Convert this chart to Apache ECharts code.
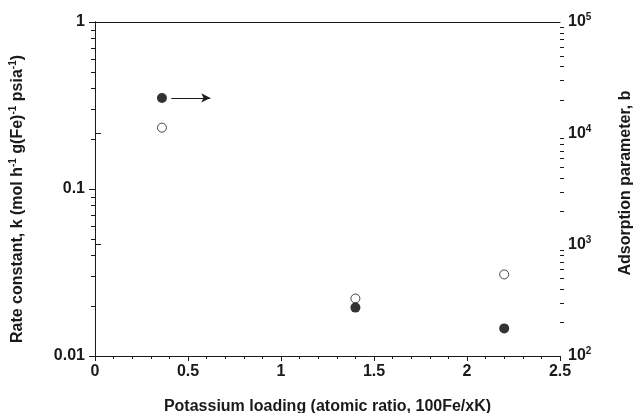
<!DOCTYPE html>
<html>
<head>
<meta charset="utf-8">
<script src="https://cdn.jsdelivr.net/npm/echarts@6/dist/echarts.min.js"></script>
<style>
  html, body { margin: 0; padding: 0; background: #fff; }
  #chart { width: 636px; height: 413px; }
</style>
</head>
<body>
<div id="chart"></div>
<script>
// Potassium loading (100Fe/xK)
const loading = [0.36, 1.4, 2.2];
// Rate constant k, left axis (open circles)
const rateConstant = [0.233, 0.0221, 0.0308];
// Adsorption parameter b, right axis (filled circles)
const adsorption = [20800, 272, 177];
// Arrow pointing from the first b point toward its axis
const arrowFrom = [0.41, 20800];
const arrowTo = [0.62, 20800];

// Minor tick positions for the two logarithmic axes
const leftMinorTicks = [0.02, 0.03, 0.04, 0.05, 0.06, 0.07, 0.08, 0.09,
                        0.2, 0.3, 0.4, 0.5, 0.6, 0.7, 0.8, 0.9];
const rightMinorTicks = [200, 300, 400, 500, 600, 700, 800, 900,
                         2000, 3000, 4000, 5000, 6000, 7000, 8000, 9000,
                         20000, 30000, 40000, 50000, 60000, 70000, 80000, 90000];

const X_MIN = 0, X_MAX = 2.5;
const FONT = 'Liberation Sans, Arial, sans-serif';
const INK = '#1a1a1a';

const chart = echarts.init(document.getElementById('chart'), null, { renderer: 'canvas' });

const labelText = { fontFamily: FONT, fontWeight: 'bold', fontSize: 16, color: INK };
const supText = { fontFamily: FONT, fontWeight: 'bold', fontSize: 10, color: INK, padding: [0, 0, 9, 0] };
const nameText = { fontFamily: FONT, fontWeight: 'bold', fontSize: 16, color: INK };
const nameSup = { fontFamily: FONT, fontWeight: 'bold', fontSize: 10, color: INK, padding: [0, 0, 9, 0] };

// Short outward tick drawn at a value of a log axis, placed by the axis scale
function minorTickSeries(yAxisIndex, xEdge, values, dir, len) {
  return {
    type: 'custom', xAxisIndex: 0, yAxisIndex: yAxisIndex,
    silent: true, clip: false, z: 2,
    data: values.map(v => [xEdge, v]),
    renderItem: function (params, api) {
      const p = api.coord([api.value(0), api.value(1)]);
      const y = Math.round(p[1]) + 0.5;
      const x = Math.round(p[0]);
      return {
        type: 'line',
        shape: { x1: x, y1: y, x2: x + dir * len, y2: y },
        style: { stroke: INK, lineWidth: 1 }
      };
    }
  };
}

const option = {
  animation: false,
  backgroundColor: '#fff',
  grid: { left: 95, right: 76, top: 22, bottom: 57, containLabel: false, outerBoundsMode: 'none' },
  xAxis: [
    {
      type: 'value', min: X_MIN, max: X_MAX, interval: 0.5,
      position: 'bottom',
      name: 'Potassium loading (atomic ratio, 100Fe/xK)',
      nameLocation: 'middle', nameGap: 43,
      nameTextStyle: nameText,
      axisLine: { show: true, lineStyle: { color: INK, width: 1 } },
      axisTick: { show: true, length: 5, lineStyle: { color: INK } },
      minorTick: { show: true, splitNumber: 5, length: 3, lineStyle: { color: INK } },
      axisLabel: Object.assign({ margin: 8, formatter: v => String(v) }, labelText),
      splitLine: { show: false }
    },
    {
      type: 'value', min: X_MIN, max: X_MAX, position: 'top',
      axisLine: { show: true, onZero: false, lineStyle: { color: INK, width: 1 } },
      axisTick: { show: false }, minorTick: { show: false },
      axisLabel: { show: false }, splitLine: { show: false }
    }
  ],
  yAxis: [
    {
      type: 'log', logBase: 10, min: 0.01, max: 1,
      position: 'left',
      name: '{t|Rate constant, k (mol h}{s|-1}{t| g(Fe)}{s|-1}{t| psia}{s|-1}{t|)}',
      nameLocation: 'middle', nameGap: 68,
      nameTextStyle: { rich: { t: nameText, s: nameSup }, padding: [0, 20, 0, 0] },
      axisLine: { show: true, lineStyle: { color: INK, width: 1 } },
      axisTick: { show: true, length: 6, lineStyle: { color: INK } },
      axisLabel: Object.assign({ margin: 10, formatter: v => String(v) }, labelText),
      splitLine: { show: false }
    },
    {
      type: 'log', logBase: 10, min: 100, max: 100000,
      position: 'right',
      name: 'Adsorption parameter, b',
      nameLocation: 'middle', nameGap: 58,
      nameTextStyle: Object.assign({}, nameText, { padding: [0, 0, 0, 12] }),
      axisLine: { show: true, lineStyle: { color: INK, width: 1 } },
      axisTick: { show: true, length: 6, lineStyle: { color: INK } },
      axisLabel: {
        margin: 8,
        formatter: v => '{b|10}{s|' + Math.round(Math.log10(v)) + '}',
        rich: { b: labelText, s: supText }
      },
      splitLine: { show: false }
    }
  ],
  series: [
    minorTickSeries(0, X_MIN, leftMinorTicks, -1, 4),
    minorTickSeries(1, X_MAX, rightMinorTicks, 1, 4),
    {
      name: 'k',
      type: 'scatter', xAxisIndex: 0, yAxisIndex: 0,
      symbol: 'circle', symbolSize: 9,
      itemStyle: { color: '#fff', borderColor: INK, borderWidth: 1 },
      data: loading.map((x, i) => [x, rateConstant[i]]),
      z: 3
    },
    {
      name: 'b',
      type: 'scatter', xAxisIndex: 0, yAxisIndex: 1,
      symbol: 'circle', symbolSize: 10,
      itemStyle: { color: '#000' },
      data: loading.map((x, i) => [x, adsorption[i]]),
      markLine: {
        silent: true,
        symbol: ['none', 'arrow'],
        symbolSize: [7, 9],
        label: { show: false },
        lineStyle: { color: INK, width: 1, type: 'solid' },
        data: [[{ coord: arrowFrom }, { coord: arrowTo }]]
      },
      z: 4
    }
  ]
};

chart.setOption(option);
</script>
</body>
</html>
